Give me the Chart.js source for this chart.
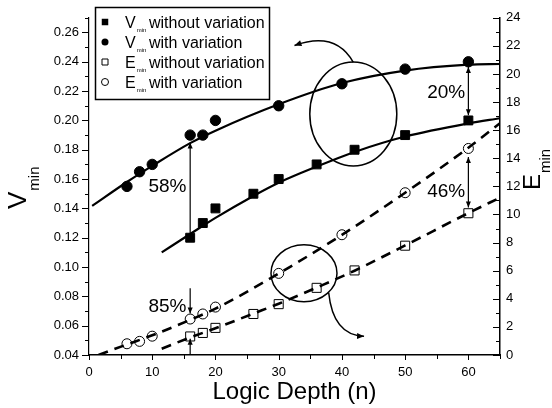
<!DOCTYPE html>
<html>
<head>
<meta charset="utf-8">
<script src="https://cdn.jsdelivr.net/npm/chart.js@4.4.0/dist/chart.umd.min.js"></script>
<style>
  html, body { margin: 0; padding: 0; background: #fff; }
  #wrap { width: 552px; height: 408px; }
</style>
</head>
<body>
<div id="wrap"><canvas id="chart" width="552" height="408"></canvas></div>
<script>
/* V_min / E_min versus logic depth, with and without variation */

// logic depth of the measured points
const depthWith = [6, 8, 10, 16, 18, 20, 30, 40, 50, 60];
const depthWithout = [16, 18, 20, 26, 30, 36, 42, 50, 60];

// V_min (left axis)
const vminWith = [0.155, 0.165, 0.170, 0.190, 0.190, 0.200, 0.210, 0.225, 0.235, 0.240];
const vminWithout = [0.120, 0.130, 0.140, 0.150, 0.160, 0.170, 0.180, 0.190, 0.200];

// E_min (right axis)
const eminWith = [0.80, 0.97, 1.34, 2.56, 2.92, 3.41, 5.81, 8.56, 11.55, 14.7];
const eminWithout = [1.32, 1.57, 1.93, 2.92, 3.62, 4.78, 6.02, 7.78, 10.09];

// trend curves as traced on the figure
const fitVWithN = [0.5, 6, 10, 16, 20, 30, 40, 50, 60, 65];
const fitVWith = [0.1417, 0.158, 0.169, 0.1845, 0.193, 0.211, 0.2255, 0.234, 0.238, 0.2385];
const fitVWithoutN = [11.5, 16, 20, 26, 30, 36, 42, 50, 60, 65];
const fitVWithout = [0.110, 0.1225, 0.1335, 0.1485, 0.1575, 0.1685, 0.1785, 0.189, 0.198, 0.2015];
const fitEWithN = [1.5, 6, 10, 16, 20, 30, 40, 50, 60, 65];
const fitEWith = [0, 0.75, 1.4, 2.5, 3.3, 5.8, 8.55, 11.55, 14.75, 16.5];
const fitEWithoutN = [11.5, 16, 20, 26, 30, 36, 42, 50, 60, 65];
const fitEWithout = [0.45, 1.25, 1.9, 2.95, 3.65, 4.8, 6.0, 7.8, 10.1, 11.2];

// tick settings
const xTicks = { min: 0, max: 65, minor: 5, major: 10 };
const vTicks = { min: 0.04, max: 0.27, minor: 0.01, major: 0.02 };
const eTicks = { min: 0, max: 24, minor: 1, major: 2 };

const FONT = '"Liberation Sans", Arial, Helvetica, sans-serif';
const pts = (xs, ys) => xs.map((x, i) => ({ x: x, y: ys[i] }));
const isMajor = (v, step) => Math.abs(v / step - Math.round(v / step)) < 1e-6;

function fitLine(xs, ys, axis, dashed) {
    return {
        data: pts(xs, ys), yAxisID: axis, showLine: true,
        borderColor: '#000', borderWidth: dashed ? 2.6 : 2.2,
        borderDash: dashed ? [10, 7] : [], pointRadius: 0,
        cubicInterpolationMode: 'monotone'
    };
}

function markers(xs, ys, axis, style, radius, filled) {
    return {
        data: pts(xs, ys), yAxisID: axis, showLine: false,
        pointStyle: style, pointRadius: radius,
        backgroundColor: filled ? '#000' : 'rgba(0,0,0,0)',
        borderColor: '#000', borderWidth: 1
    };
}

function arrowHead(ctx, x, y, angle, size) {
    ctx.save();
    ctx.translate(x, y);
    ctx.rotate(angle);
    ctx.beginPath();
    ctx.moveTo(0, 0);
    ctx.lineTo(-size, -size * 0.42);
    ctx.lineTo(-size, size * 0.42);
    ctx.closePath();
    ctx.fill();
    ctx.restore();
}

function vArrow(ctx, x, y1, y2, headTop, headBottom) {
    ctx.beginPath();
    ctx.moveTo(x, y1);
    ctx.lineTo(x, y2);
    ctx.stroke();
    if (headTop) arrowHead(ctx, x, Math.min(y1, y2), -Math.PI / 2, 6);
    if (headBottom) arrowHead(ctx, x, Math.max(y1, y2), Math.PI / 2, 6);
}

function curvedArrow(ctx, p0, c, p1) {
    ctx.beginPath();
    ctx.moveTo(p0[0], p0[1]);
    ctx.quadraticCurveTo(c[0], c[1], p1[0], p1[1]);
    ctx.stroke();
    arrowHead(ctx, p1[0], p1[1], Math.atan2(p1[1] - c[1], p1[0] - c[0]), 7);
}

function marker(ctx, style, x, y, size, filled) {
    ctx.beginPath();
    if (style === 'rect') ctx.rect(x - size / 2, y - size / 2, size, size);
    else ctx.arc(x, y, size / 2, 0, Math.PI * 2);
    if (filled) ctx.fill(); else ctx.stroke();
}

function subText(ctx, main, sub, rest, x, y, big, small, drop) {
    ctx.font = big + 'px ' + FONT;
    ctx.fillText(main, x, y);
    let w = ctx.measureText(main).width;
    ctx.font = small + 'px ' + FONT;
    ctx.fillText(sub, x + w + 1, y + drop);
    if (rest) {
        ctx.font = big + 'px ' + FONT;
        ctx.fillText(rest.text, rest.x, y);
    }
}

const decor = {
    id: 'decor',
    afterDraw(chart) {
        const ctx = chart.ctx;
        const xs = chart.scales.x, ys = chart.scales.y, es = chart.scales.y2;
        const X = n => xs.getPixelForValue(n);
        const V = v => ys.getPixelForValue(v);
        const E = e => es.getPixelForValue(e);
        const area = chart.chartArea;
        ctx.save();
        ctx.strokeStyle = '#000';
        ctx.fillStyle = '#000';

        // tick marks: bottom and left outward, right inward
        ctx.lineWidth = 1;
        xs.ticks.forEach(t => {
            const p = Math.round(X(t.value)) + 0.5;
            ctx.beginPath(); ctx.moveTo(p, area.bottom); ctx.lineTo(p, area.bottom + (isMajor(t.value, xTicks.major) ? 5 : 4)); ctx.stroke();
        });
        ys.ticks.forEach(t => {
            const p = Math.round(V(t.value)) + 0.5;
            ctx.beginPath(); ctx.moveTo(area.left, p); ctx.lineTo(area.left - (isMajor(t.value - vTicks.min, vTicks.major) ? 7 : 4), p); ctx.stroke();
        });
        es.ticks.forEach(t => {
            const p = Math.round(E(t.value)) + 0.5;
            ctx.beginPath(); ctx.moveTo(area.right, p); ctx.lineTo(area.right - (isMajor(t.value, eTicks.major) ? 7 : 4), p); ctx.stroke();
        });

        // ellipses around the two groups
        ctx.lineWidth = 1.5;
        ctx.beginPath(); ctx.ellipse(X(41.8), V(0.2044), 43.5, 52, 0, 0, Math.PI * 2); ctx.stroke();
        ctx.beginPath(); ctx.ellipse(X(34), E(5.82), 33, 28.5, 0, 0, Math.PI * 2); ctx.stroke();

        // curved arrows pointing to the axes
        curvedArrow(ctx, [X(41.8), V(0.2396)], [X(39), V(0.2612)], [X(32.5), V(0.2511)]);
        curvedArrow(ctx, [X(37.9), E(4.45)], [X(38.6), E(1.4)], [X(43.5), E(1.34)]);

        // percentage arrows
        ctx.lineWidth = 1.2;
        vArrow(ctx, X(16), V(0.1232), V(0.1850), true, false);
        vArrow(ctx, X(60), V(0.2365), V(0.2035), true, true);
        vArrow(ctx, X(60), E(14.1), E(10.5), true, true);
        vArrow(ctx, X(16), E(4.75), E(2.95), false, true);
        vArrow(ctx, X(16), E(0), E(1.15), true, false);

        ctx.font = '19px ' + FONT;
        ctx.textAlign = 'center';
        ctx.textBaseline = 'middle';
        ctx.fillText('58%', X(12.4), V(0.1545));
        ctx.fillText('85%', X(12.4), E(3.4));
        ctx.fillText('20%', X(56.5), V(0.2186));
        ctx.fillText('46%', X(56.5), E(11.6));

        // legend
        ctx.lineWidth = 1.5;
        ctx.strokeRect(95.5, 7.5, 174, 92);
        const rows = [
            { sym: 'V', style: 'rect', filled: true, size: 6.5, label: 'without variation' },
            { sym: 'V', style: 'circle', filled: true, size: 7, label: 'with variation' },
            { sym: 'E', style: 'rect', filled: false, size: 6, label: 'without variation' },
            { sym: 'E', style: 'circle', filled: false, size: 7, label: 'with variation' }
        ];
        ctx.textAlign = 'left';
        ctx.textBaseline = 'alphabetic';
        rows.forEach((r, i) => {
            const y = 22 + i * 20;
            ctx.lineWidth = 1;
            marker(ctx, r.style, 105, y, r.size, r.filled);
            subText(ctx, r.sym, 'min', { text: r.label, x: 149 }, 125, y + 6, 16, 6, 4);
        });

        // axis titles
        ctx.textAlign = 'center';
        ctx.textBaseline = 'middle';
        ctx.font = '24px ' + FONT;
        ctx.fillText('Logic Depth (n)', (area.left + area.right) / 2, 392);

        ctx.textAlign = 'left';
        ctx.textBaseline = 'alphabetic';
        ctx.save();
        ctx.translate(26, 209);
        ctx.rotate(-Math.PI / 2);
        subText(ctx, 'V', 'min', null, 0, 0, 26, 15, 13);
        ctx.restore();

        ctx.save();
        ctx.translate(540, 190);
        ctx.rotate(-Math.PI / 2);
        subText(ctx, 'E', 'min', null, 0, 0, 24, 15, 10);
        ctx.restore();

        ctx.restore();
    }
};

const tickFont = { family: FONT, size: 13 };

new Chart(document.getElementById('chart'), {
    type: 'scatter',
    data: {
        datasets: [
            markers(depthWithout, vminWithout, 'y', 'rect', 6.3, true),
            markers(depthWith, vminWith, 'y', 'circle', 5.2, true),
            markers(depthWithout, eminWithout, 'y2', 'rect', 6.4, false),
            markers(depthWith, eminWith, 'y2', 'circle', 5, false),
            fitLine(fitVWithN, fitVWith, 'y', false),
            fitLine(fitVWithoutN, fitVWithout, 'y', false),
            fitLine(fitEWithN, fitEWith, 'y2', true),
            fitLine(fitEWithoutN, fitEWithout, 'y2', true)
        ]
    },
    options: {
        responsive: false,
        animation: false,
        devicePixelRatio: 1,
        layout: { padding: { top: 15, left: 0, right: 0, bottom: 0 } },
        plugins: { legend: { display: false }, tooltip: { enabled: false } },
        scales: {
            x: {
                type: 'linear', position: 'bottom', min: xTicks.min, max: xTicks.max,
                grid: { display: false, drawTicks: false },
                border: { display: true, color: '#000', width: 1.5 },
                ticks: {
                    stepSize: xTicks.minor, autoSkip: false, maxRotation: 0, padding: 10,
                    color: '#000', font: tickFont,
                    callback: v => isMajor(v, xTicks.major) ? String(Math.round(v)) : ''
                },
                afterFit: s => { s.height = 53; }
            },
            y: {
                type: 'linear', position: 'left', min: vTicks.min, max: vTicks.max,
                grid: { display: false, drawTicks: false },
                border: { display: true, color: '#000', width: 1.2 },
                ticks: {
                    stepSize: vTicks.minor, autoSkip: false, includeBounds: false, padding: 10,
                    color: '#000', font: tickFont,
                    callback: v => isMajor(v - vTicks.min, vTicks.major) ? v.toFixed(2) : ''
                },
                afterFit: s => { s.width = 89; }
            },
            y2: {
                type: 'linear', position: 'right', min: eTicks.min, max: eTicks.max,
                grid: { display: false, drawTicks: false },
                border: { display: true, color: '#000', width: 1.5 },
                ticks: {
                    stepSize: eTicks.minor, autoSkip: false, padding: 6,
                    color: '#000', font: tickFont,
                    callback: v => isMajor(v, eTicks.major) ? String(Math.round(v)) : ''
                },
                afterFit: s => { s.width = 52; }
            }
        }
    },
    plugins: [decor]
});
</script>
</body>
</html>
